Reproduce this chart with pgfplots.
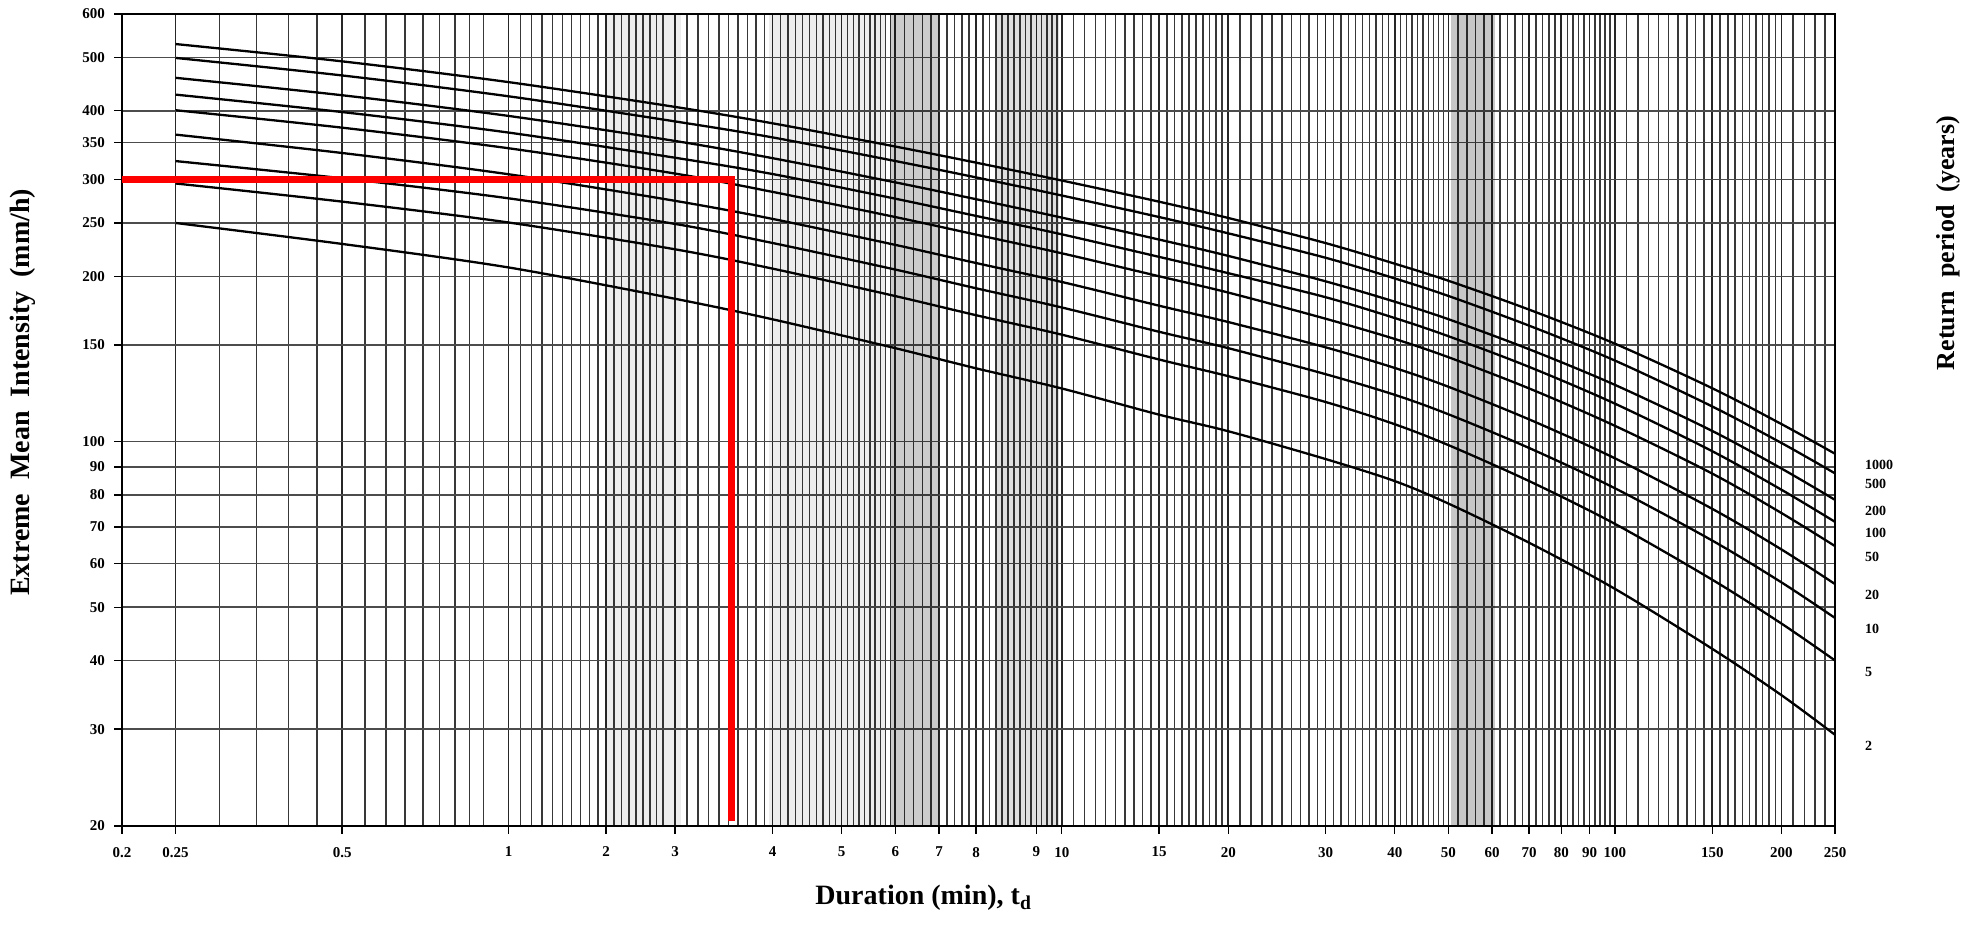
\documentclass[border=0pt]{standalone}
\usepackage{fontspec}
\setmainfont{Liberation Serif}
\usepackage{pgfplots}
\usepackage{pgfplotstable}
\pgfplotsset{compat=1.18}

% intensity (mm/h) against duration (min), one column per return period
\pgfplotstableread{
t     r1000  r500   r200   r100   r50    r20    r10    r5     r2
0.25  529    499.1  459.2  428.0  400.9  362.0  324.0  295.0  250
0.5   492    463.8  426.9  397.9  372.7  335.2  301.5  273.4  229
1     451    425.0  391.5  365.1  341.9  306.6  277.2  250.5  207.5
2     406.5  382.6  352.5  328.6  307.5  274.3  249.0  223.9  182
3     379.6  357.8  328.0  306.9  284.8  254.3  229.9  206.5  167
5     344.4  324.1  296.4  276.8  256.3  228.1  205.7  184.1  148
7     321.9  302.6  276.2  257.5  238.1  211.4  190.2  169.9  136
10    298.7  280.5  255.7  238.4  220.2  195.3  175.5  156.6  125
15    273.3  256.3  233.2  216.9  200.0  176.8  158.5  141.1  112
20    255.3  239.4  217.8  202.6  186.8  165.1  148.0  131.6  104.5
30    229.8  216.1  195.8  183.2  167.4  148.5  132.7  118.1  93
40    210.8  198.2  179.8  167.9  153.8  136.2  121.7  107.6  84.8
50    196.3  184.2  167.1  155.6  142.5  125.9  112.2  98.6   77.2
70    173.9  162.6  147.3  136.8  125.0  109.8  97.4   84.8   65.5
100   150.8  140.5  126.9  117.3  106.9  93.3   82.3   70.9   54
150   125.1  115.9  104.6  96.1   87.5   75.5   66.1   56.1   42
200   107.7  99.5   89.4   81.8   74.2   63.7   55.5   46.7   34.6
250   95.1   87.6   78.4   71.5   64.6   55.1   47.8   40.0   29.3
}\idf

\begin{document}
\begin{tikzpicture}
\useasboundingbox (-61pt,-50pt) rectangle (927.5pt,413pt);
\begin{axis}[
  scale only axis, width=856.5pt, height=406pt,
  xmode=log, ymode=log,
  xmin=0.2, xmax=250, ymin=20, ymax=600,
  xtick={0.2,0.25,0.5,1,1.5,2,3,4,5,6,7,9,10,15,20,30,40,50,60,70,80,90,100,150,200,250},
  xticklabels={0.2,0.25,0.5,1,2,3,4,5,6,7,8,9,10,15,20,30,40,50,60,70,80,90,100,150,200,250},
  ytick={20,30,40,50,60,70,80,90,100,150,200,250,300,350,400,500,600},
  yticklabels={20,30,40,50,60,70,80,90,100,150,200,250,300,350,400,500,600},
  minor xtick={0.3,0.35,...,0.95,1.05,1.1,...,1.95,2.1,2.2,...,4.9,5.2,5.4,...,9.8,10.5,11,...,19.5,21,22,...,49,52,54,...,98,105,110,...,195,210,220,...,240},
  minor ytick={},
  xmajorgrids, xminorgrids, ymajorgrids,
  major x grid style={black!85, line width=0.8pt},
  minor x grid style={black!78, line width=0.72pt},
  major y grid style={black!70, line width=0.75pt},
  tick align=outside, major tick length=4pt, minor tick length=0pt,
  xtick pos=left, ytick pos=left,
  every tick/.style={black, line width=0.7pt},
  axis line style={black, line width=0.9pt},
  ticklabel style={font=\fontsize{7.5}{8}\selectfont\bfseries},
  xticklabel style={yshift=-3pt},
  yticklabel style={xshift=-1pt},
  clip=false,
]
% darker scanned bands
\addplot[draw=none, fill=black, fill opacity=0.07] coordinates {(1.5,20) (2.05,20) (2.05,600) (1.5,600)} -- cycle;
\addplot[draw=none, fill=black, fill opacity=0.07] coordinates {(2.96,20) (4.8,20) (4.8,600) (2.96,600)} -- cycle;
\addplot[draw=none, fill=black, fill opacity=0.2] coordinates {(4.9,20) (6.0,20) (6.0,600) (4.9,600)} -- cycle;
\addplot[draw=none, fill=black, fill opacity=0.12] coordinates {(7.6,20) (9.9,20) (9.9,600) (7.6,600)} -- cycle;
\addplot[draw=none, fill=black, fill opacity=0.22] coordinates {(50.6,20) (60.7,20) (60.7,600) (50.6,600)} -- cycle;

\addplot[black, line width=1.15pt, smooth] table[x=t, y=r1000] {\idf};
\addplot[black, line width=1.15pt, smooth] table[x=t, y=r500] {\idf};
\addplot[black, line width=1.15pt, smooth] table[x=t, y=r200] {\idf};
\addplot[black, line width=1.15pt, smooth] table[x=t, y=r100] {\idf};
\addplot[black, line width=1.15pt, smooth] table[x=t, y=r50] {\idf};
\addplot[black, line width=1.15pt, smooth] table[x=t, y=r20] {\idf};
\addplot[black, line width=1.15pt, smooth] table[x=t, y=r10] {\idf};
\addplot[black, line width=1.15pt, smooth] table[x=t, y=r5] {\idf};
\addplot[black, line width=1.15pt, smooth] table[x=t, y=r2] {\idf};

\addplot[red, line width=3.8pt, line join=miter] coordinates {(0.2,300) (2.53,300) (2.53,20.4)};

\node[xshift=-49.5pt, rotate=90, font=\fontsize{14}{16}\selectfont\bfseries] at (rel axis cs:0,0.534) {Extreme\ \ Mean\ \ Intensity\ \ (mm/h)};
\node[yshift=-36pt, font=\fontsize{14}{16}\selectfont\bfseries] at (rel axis cs:0.468,0) {Duration (min), t\textsubscript{d}};
\node[xshift=56.5pt, rotate=90, font=\fontsize{13}{15}\selectfont\bfseries] at (rel axis cs:1,0.718) {Return\ \ period\ \ (years)};

\node[anchor=west, xshift=11.5pt, yshift=-5.5pt, font=\fontsize{7}{8}\selectfont\bfseries] at (axis cs:250,95.1) {1000};
\node[anchor=west, xshift=11.5pt, yshift=-5.5pt, font=\fontsize{7}{8}\selectfont\bfseries] at (axis cs:250,87.6) {500};
\node[anchor=west, xshift=11.5pt, yshift=-5.5pt, font=\fontsize{7}{8}\selectfont\bfseries] at (axis cs:250,78.4) {200};
\node[anchor=west, xshift=11.5pt, yshift=-5.5pt, font=\fontsize{7}{8}\selectfont\bfseries] at (axis cs:250,71.5) {100};
\node[anchor=west, xshift=11.5pt, yshift=-5.5pt, font=\fontsize{7}{8}\selectfont\bfseries] at (axis cs:250,64.6) {50};
\node[anchor=west, xshift=11.5pt, yshift=-5.5pt, font=\fontsize{7}{8}\selectfont\bfseries] at (axis cs:250,55.1) {20};
\node[anchor=west, xshift=11.5pt, yshift=-5.5pt, font=\fontsize{7}{8}\selectfont\bfseries] at (axis cs:250,47.8) {10};
\node[anchor=west, xshift=11.5pt, yshift=-5.5pt, font=\fontsize{7}{8}\selectfont\bfseries] at (axis cs:250,40) {5};
\node[anchor=west, xshift=11.5pt, yshift=-5.5pt, font=\fontsize{7}{8}\selectfont\bfseries] at (axis cs:250,29.3) {2};
\end{axis}
\end{tikzpicture}
\end{document}
